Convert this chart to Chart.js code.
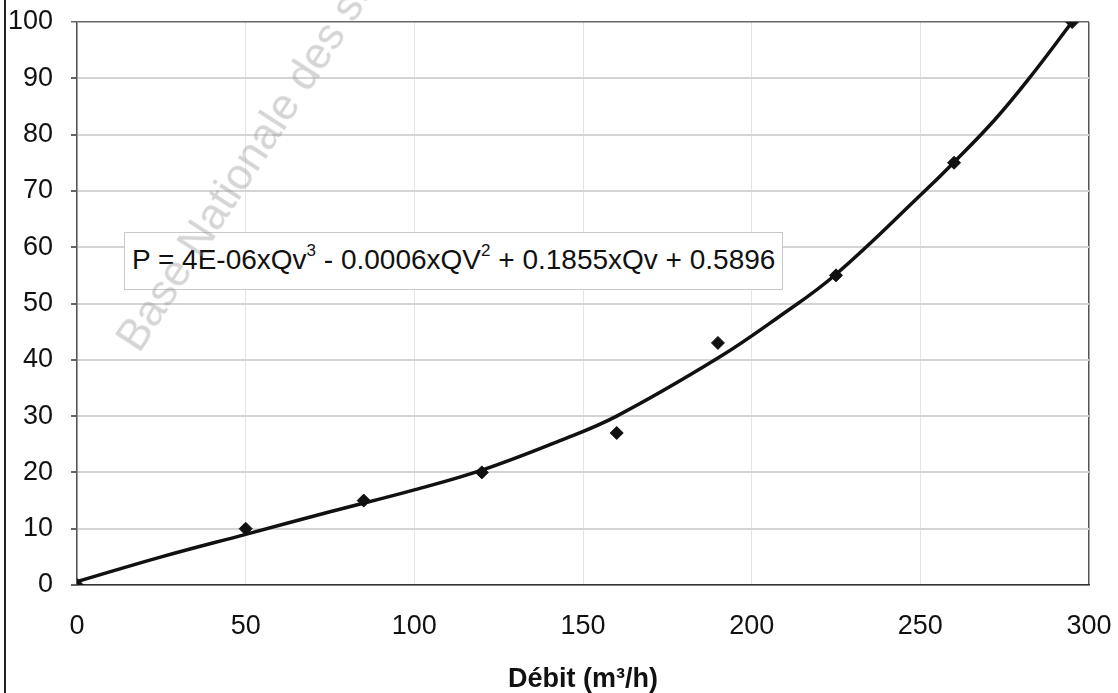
<!DOCTYPE html>
<html>
<head>
<meta charset="utf-8">
<title>Puissance en fonction du débit</title>
<script src="https://cdn.jsdelivr.net/npm/chart.js"></script>
<style>
  html, body { margin: 0; padding: 0; background: #fff; }
  #wrap { position: relative; width: 1118px; height: 693px; overflow: hidden; }
  #scanEdge { position: absolute; left: 4px; top: 0; width: 2px; height: 693px; background: #222; }
  #equation {
    position: absolute; left: 124px; top: 232px; width: 659px; height: 58px;
    border: 1px solid #c8c8c8; background: #fff; box-sizing: border-box;
    font: 28px Arial, "Liberation Sans", sans-serif; color: #111;
    padding: 11px 0 0 7px; white-space: nowrap;
  }
  #equation sup { font-size: 17px; vertical-align: 13px; line-height: 0; }
  #watermark {
    position: absolute; left: 145px; top: 314px; transform-origin: 0 100%;
    transform: rotate(-57deg); font: 44px Arial, "Liberation Sans", sans-serif;
    color: rgba(150,150,150,0.4); white-space: nowrap; line-height: 1; pointer-events: none;
  }
</style>
</head>
<body>
<div id="wrap">
  <canvas id="chart"></canvas>
  <div id="scanEdge"></div>
  <div id="equation">P = 4E-06xQv<sup>3</sup> - 0.0006xQV<sup>2</sup> + 0.1855xQv + 0.5896</div>
  <div id="watermark">Base Nationale des sujets</div>
</div>
<script>
// ========== DATA ========== //
// mesures (debit m3/h, puissance)
const debitMesure = [0, 50, 85, 120, 160, 190, 225, 260, 295];
const puissanceMesure = [0, 10, 15, 20, 27, 43, 55, 75, 100];
// courbe de tendance
const debitCourbe = [0, 25, 50, 75, 100, 120, 143, 160, 190, 208, 225, 251, 260, 272, 282, 295];
const puissanceCourbe = [0.6, 5.0, 9.0, 13.0, 16.9, 20.4, 25.6, 30.0, 40.3, 47.6, 55.2, 69.8, 75.1, 82.6, 89.8, 100];
// axes
const xTicks = [0, 50, 100, 150, 200, 250, 300];
const yTicks = [0, 10, 20, 30, 40, 50, 60, 70, 80, 90, 100];
const xTitle = 'Débit (m³/h)';

// ========== CHART ========== //
const toPoints = (xs, ys) => xs.map((x, i) => ({ x: x, y: ys[i] }));
const fontFamily = 'Arial, "Liberation Sans", sans-serif';
const tickFont = { family: fontFamily, size: 27 };

new Chart(document.getElementById('chart').getContext('2d'), {
    type: 'scatter',
    data: {
        datasets: [{
            label: 'Tendance',
            data: toPoints(debitCourbe, puissanceCourbe),
            showLine: true,
            borderColor: '#111',
            borderWidth: 3.5,
            pointRadius: 0,
            tension: 0.4,
            order: 2
        }, {
            label: 'Mesures',
            data: toPoints(debitMesure, puissanceMesure),
            pointStyle: 'rectRot',
            pointRadius: 6.5,
            backgroundColor: '#111',
            borderColor: '#111',
            borderWidth: 1,
            order: 1
        }]
    },
    options: {
        responsive: true,
        maintainAspectRatio: false,
        animation: false,
        layout: { padding: { left: 10, right: 29, top: 22, bottom: 0 } },
        plugins: { legend: { display: false }, tooltip: { enabled: false } },
        scales: {
            x: {
                type: 'linear',
                min: xTicks[0],
                max: xTicks[xTicks.length - 1],
                afterBuildTicks: s => { s.ticks = xTicks.map(v => ({ value: v })); },
                afterFit: s => { s.height = 108; s.paddingLeft = 0; s.paddingRight = 0; },
                ticks: { font: tickFont, color: '#111', padding: 25, maxRotation: 0 },
                grid: {
                    drawTicks: false,
                    color: c => c.tick && c.tick.value === 300 ? '#555' : '#e4e4e4',
                    lineWidth: c => c.tick && c.tick.value === 300 ? 1.5 : 1
                },
                border: { color: '#333', width: 1.5 },
                title: {
                    display: true,
                    text: xTitle,
                    color: '#111',
                    font: { family: fontFamily, size: 27, weight: 'bold' },
                    padding: { top: 18, bottom: -3 }
                }
            },
            y: {
                type: 'linear',
                min: yTicks[0],
                max: yTicks[yTicks.length - 1],
                afterBuildTicks: s => { s.ticks = yTicks.map(v => ({ value: v })); },
                afterFit: s => { s.width = 67; s.paddingTop = 0; s.paddingBottom = 0; },
                ticks: { font: tickFont, color: '#111', padding: 18 },
                grid: {
                    tickLength: 6,
                    tickColor: '#666',
                    color: c => c.tick && c.tick.value === 100 ? '#666' : '#d4d4d4',
                    lineWidth: c => c.tick && c.tick.value === 100 ? 1.5 : 2
                },
                border: { color: '#555', width: 1.5 }
            }
        }
    }
});
</script>
</body>
</html>
